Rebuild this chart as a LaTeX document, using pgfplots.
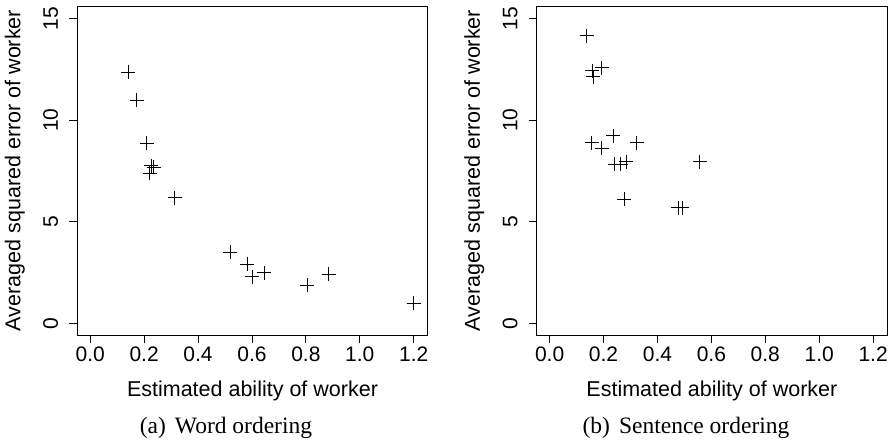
\documentclass[border=0pt]{standalone}
\usepackage{fontspec}
\setmainfont{Liberation Sans}
\newfontfamily\capfont{Liberation Serif}
\usepackage{pgfplots}
\usepackage{pgfplotstable}
\pgfplotsset{compat=1.18}
\pgfplotstableread{
x y
0.140 12.37
0.173 10.98
0.210 8.86
0.226 7.75
0.235 7.68
0.220 7.38
0.313 6.18
0.519 3.49
0.583 2.90
0.600 2.30
0.646 2.49
0.806 1.87
0.884 2.41
1.200 0.98
}\worddata
\pgfplotstableread{
x y
0.137 14.16
0.158 12.44
0.161 12.14
0.193 12.59
0.156 8.89
0.193 8.62
0.236 9.24
0.323 8.89
0.242 7.83
0.264 7.83
0.285 7.96
0.557 7.96
0.277 6.12
0.477 5.69
0.492 5.69
}\sentdata
\pgfplotsset{rstyle/.style={
  scale only axis, width=350.4pt, height=329pt,
  xmin=-0.048, xmax=1.252, ymin=-0.58, ymax=15.62,
  xtick={0,0.2,0.4,0.6,0.8,1.0,1.2},
  xticklabels={0.0,0.2,0.4,0.6,0.8,1.0,1.2},
  ytick={0,5,10,15},
  yticklabels={0,5,10,15},
  tick align=outside, major tick length=8pt,
  xtick pos=bottom, ytick pos=left,
  tick style={black, line width=0.8pt},
  axis line style={black, line width=0.8pt},
  every axis/.append style={font=\fontsize{21}{25}\selectfont},
  ticklabel style={font=\fontsize{21}{25}\selectfont},
  /pgf/number format/assume math mode=true,
  xticklabel style={anchor=north, inner sep=0pt},
  yticklabel style={rotate=90, anchor=south, inner sep=0pt},
  xticklabel shift=4pt,
  yticklabel shift=11pt,
  xlabel style={at={(axis description cs:0.5,-0.169)}, anchor=center, font=\fontsize{21.5}{25}\selectfont},
  ylabel style={at={(axis description cs:-0.178,0.5)}, anchor=center, font=\fontsize{21.5}{25}\selectfont},
  xlabel={Estimated ability of worker},
  ylabel={Averaged squared error of worker},
}}
\begin{document}
\begin{tikzpicture}
\path[use as bounding box] (0,0) rectangle (890pt,443pt);
\begin{axis}[rstyle, at={(77.3pt,108pt)}, anchor=south west]
\addplot[only marks, mark=+, mark size=7pt, mark options={line width=0.8pt, black}] table {\worddata};
\end{axis}
\begin{axis}[rstyle, at={(536.7pt,108pt)}, anchor=south west]
\addplot[only marks, mark=+, mark size=7pt, mark options={line width=0.8pt, black}] table {\sentdata};
\end{axis}
\node[font=\capfont\fontsize{23.5}{27}\selectfont, anchor=center] at (226pt,15pt) {(a)\hspace{9pt}Word ordering};
\node[font=\capfont\fontsize{23.5}{27}\selectfont, anchor=center] at (686pt,15pt) {(b)\hspace{9pt}Sentence ordering};
\end{tikzpicture}
\end{document}
